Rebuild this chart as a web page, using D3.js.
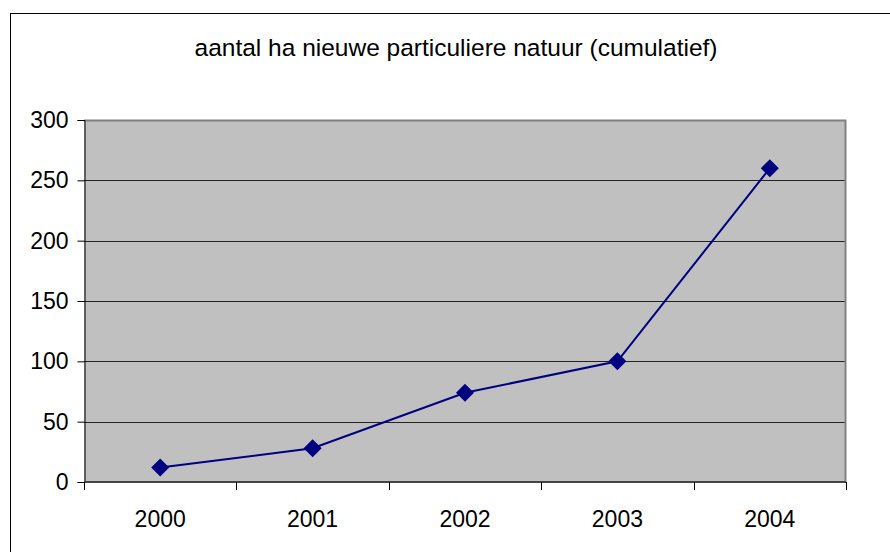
<!DOCTYPE html>
<html lang="nl">
<head>
    <meta charset="UTF-8">
    <title>aantal ha nieuwe particuliere natuur</title>
    <script src="https://d3js.org/d3.v7.min.js"></script>
    <style>
        body { margin: 0; background: #fff; }
        svg text { font-family: "Liberation Sans", Arial, sans-serif; fill: #000; }
    </style>
</head>
<body>
<svg id="chart" width="890" height="552"></svg>
<script>
    // data
    var years = ["2000", "2001", "2002", "2003", "2004"];
    var hectares = [12, 28, 74, 100, 260];
    var yTicks = [0, 50, 100, 150, 200, 250, 300];
    var title = "aantal ha nieuwe particuliere natuur (cumulatief)";

    var svg = d3.select("#chart");
    var plotL = 84, plotR = 846, plotT = 120, plotB = 482;

    // outer chart border (runs off the bottom and right of the picture)
    svg.append("rect")
        .attr("x", 10.5).attr("y", 13.5)
        .attr("width", 900).attr("height", 600)
        .attr("fill", "#fff").attr("stroke", "#000").attr("stroke-width", 1);

    svg.append("text")
        .attr("x", 456).attr("y", 56)
        .attr("text-anchor", "middle")
        .style("font-size", "24.5px")
        .text(title);

    var x = d3.scaleBand().domain(years).range([plotL, plotR]);
    var y = d3.scaleLinear().domain([0, 300]).range([plotB, plotT]);

    // plot area
    svg.append("rect")
        .attr("x", plotL).attr("y", plotT)
        .attr("width", plotR - plotL).attr("height", plotB - plotT)
        .attr("fill", "#c0c0c0");

    // gridlines
    svg.append("g").selectAll("line")
        .data(yTicks.filter(function (d) { return d > 0 && d < 300; }))
        .enter().append("line")
        .attr("x1", plotL).attr("x2", plotR)
        .attr("y1", function (d) { return Math.round(y(d)) + 0.5; })
        .attr("y2", function (d) { return Math.round(y(d)) + 0.5; })
        .attr("stroke", "#222").attr("stroke-width", 1);

    // top and right border of plot area
    svg.append("path")
        .attr("d", "M" + plotL + "," + (plotT + 0.5) + "H" + (plotR - 0.5) + "V" + plotB)
        .attr("fill", "none").attr("stroke", "#808080").attr("stroke-width", 2);

    // y axis
    var yAxis = svg.append("g")
        .attr("transform", "translate(" + (plotL + 0.5) + ",0)")
        .call(d3.axisLeft(y).tickValues(yTicks).tickSize(7).tickPadding(9));
    yAxis.select(".domain").attr("stroke", "#000");
    yAxis.selectAll(".tick line").attr("stroke", "#000");
    yAxis.selectAll("text").style("font-size", "23px");

    // x axis: ticks on category boundaries
    svg.append("line")
        .attr("x1", plotL).attr("x2", plotR)
        .attr("y1", plotB).attr("y2", plotB)
        .attr("stroke", "#444").attr("stroke-width", 2);
    var bounds = years.map(function (d) { return x(d); }).concat([plotR]);
    svg.append("g").selectAll("line")
        .data(bounds)
        .enter().append("line")
        .attr("x1", function (d) { return Math.round(d) + 0.5; })
        .attr("x2", function (d) { return Math.round(d) + 0.5; })
        .attr("y1", plotB).attr("y2", plotB + 8)
        .attr("stroke", "#000");
    svg.append("g").selectAll("text")
        .data(years)
        .enter().append("text")
        .attr("x", function (d) { return x(d) + x.bandwidth() / 2; })
        .attr("y", 527)
        .attr("text-anchor", "middle")
        .style("font-size", "23px")
        .text(function (d) { return d; });

    // series line
    var line = d3.line()
        .x(function (d, i) { return x(years[i]) + x.bandwidth() / 2; })
        .y(function (d) { return y(d); });
    svg.append("path")
        .datum(hectares)
        .attr("d", line)
        .attr("fill", "none")
        .attr("stroke", "#000080")
        .attr("stroke-width", 2);

    // diamond markers
    svg.append("g").selectAll("path")
        .data(hectares)
        .enter().append("path")
        .attr("transform", function (d, i) {
            return "translate(" + (x(years[i]) + x.bandwidth() / 2) + "," + y(d) + ")";
        })
        .attr("d", "M0,-9L9,0L0,9L-9,0Z")
        .attr("fill", "#000080");
</script>
</body>
</html>
